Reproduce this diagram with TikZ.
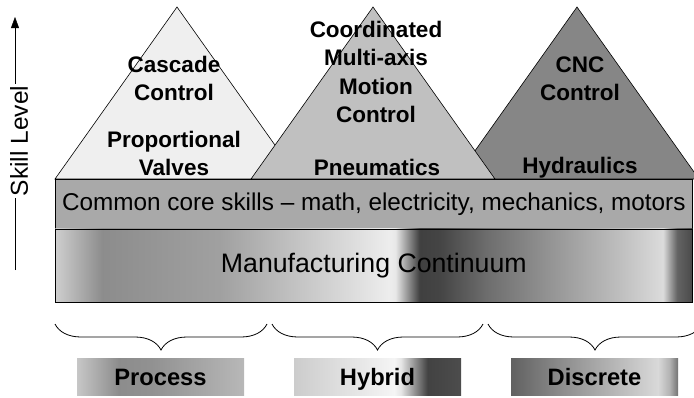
\documentclass[tikz,border=0pt]{standalone}
\usepackage{fontspec}
\setmainfont{Liberation Sans}
\usetikzlibrary{arrows.meta, decorations.pathreplacing, positioning}

\definecolor{lowtri}{HTML}{EFEFEF}
\definecolor{midtri}{HTML}{C0C0C0}
\definecolor{hightri}{HTML}{868686}
\definecolor{coregray}{HTML}{A9A9A9}

\pgfdeclarehorizontalshading{continuum}{100bp}{
  color(0bp)=(black!19); color(25bp)=(black!19); color(28.7bp)=(black!45);
  color(38bp)=(black!37); color(51.2bp)=(black!7); color(51.7bp)=(black!9);
  color(53.6bp)=(black!75); color(55.2bp)=(black!73); color(58.9bp)=(black!57);
  color(69.4bp)=(black!25); color(72.7bp)=(black!14); color(73.8bp)=(black!61);
  color(75bp)=(black!71); color(100bp)=(black!71)}
\pgfdeclarehorizontalshading{processshade}{100bp}{
  color(0bp)=(black!22); color(25bp)=(black!22); color(37.5bp)=(black!45);
  color(47.5bp)=(black!43); color(75bp)=(black!28); color(100bp)=(black!28)}
\pgfdeclarehorizontalshading{hybridshade}{100bp}{
  color(0bp)=(black!20); color(25bp)=(black!20); color(55bp)=(black!4);
  color(57bp)=(black!10); color(65bp)=(black!74); color(75bp)=(black!70);
  color(100bp)=(black!70)}
\pgfdeclarehorizontalshading{discreteshade}{100bp}{
  color(0bp)=(black!62); color(25bp)=(black!62); color(40bp)=(black!45);
  color(69bp)=(black!15); color(72.5bp)=(black!30); color(75bp)=(black!55);
  color(100bp)=(black!55)}

\begin{document}
\begin{tikzpicture}[
  x=1pt, y=-1pt,
  every node/.style={align=center, inner sep=0pt},
  tri/.style={draw, line width=0.6pt, line join=miter},
  skilltext/.style={font=\fontsize{22.5}{28.5}\selectfont\bfseries},
  band/.style={draw, line width=0.6pt, minimum width=637pt},
  kind/.style={minimum width=167pt, minimum height=37pt, text height=17pt, text depth=0pt,
    font=\fontsize{23.7}{28}\selectfont\bfseries},
  brc/.style={decorate, decoration={brace, mirror, amplitude=26pt}, line width=0.8pt}
]
\useasboundingbox (0,0) rectangle (694,397);

\draw[tri, fill=lowtri] (55,179) -- (177,7) -- (299,179) -- cycle;
\draw[tri, fill=hightri] (455,179) -- (577,7) -- (699,179) -- cycle;
\draw[tri, fill=midtri] (251,179) -- (373,7) -- (495,179) -- cycle;

\node[band, fill=coregray, minimum height=49pt, anchor=north west,
  font=\fontsize{24.3}{28}\selectfont] (core) at (55,179)
  {Common core skills -- math, electricity, mechanics, motors};
\node[band, shading=continuum, minimum height=73pt, below=0pt of core,
  font=\fontsize{26.7}{30}\selectfont] (continuum) {Manufacturing Continuum};

\node[skilltext, anchor=base] (cascade) at (174,100.5) {Cascade\\Control};
\node[skilltext, anchor=base] (valves) at (174,175.5) {Proportional\\Valves};
\node[skilltext, anchor=base] (motion) at (376,122.5) {Coordinated\\Multi-axis\\Motion\\Control};
\node[skilltext, anchor=base] (pneumatics) at (377,175.5) {Pneumatics};
\node[skilltext, anchor=base] (cnc) at (580,100.5) {CNC\\Control};
\node[skilltext, anchor=base] (hydraulics) at (580,173.5) {Hydraulics};

\coordinate (axbot) at (15,270);
\coordinate (axtop) at (15,17);
\node[rotate=90, inner sep=2pt, font=\fontsize{24.5}{28}\selectfont] (skill) at (19,141) {Skill Level};
\draw (axbot) -- (axbot |- skill.west);
\draw[-{Triangle[length=11pt, width=8pt]}] (axbot |- skill.east) -- (axtop);

\coordinate (b1l) at (55,324);
\coordinate (b1r) at (267,324);
\coordinate (b2l) at (272,324);
\coordinate (b2r) at (483,324);
\coordinate (b3l) at (488,324);
\coordinate (b3r) at (702,324);
\draw[brc] (b1l) -- (b1r);
\draw[brc] (b2l) -- (b2r);
\draw[brc] (b3l) -- (b3r);

\node[kind, shading=processshade] (process) at (160.5,376.5) {Process};
\node[kind, shading=hybridshade] (hybrid) at (377.5,376.5) {Hybrid};
\node[kind, shading=discreteshade] (discrete) at (594.5,376.5) {Discrete};

\end{tikzpicture}
\end{document}
